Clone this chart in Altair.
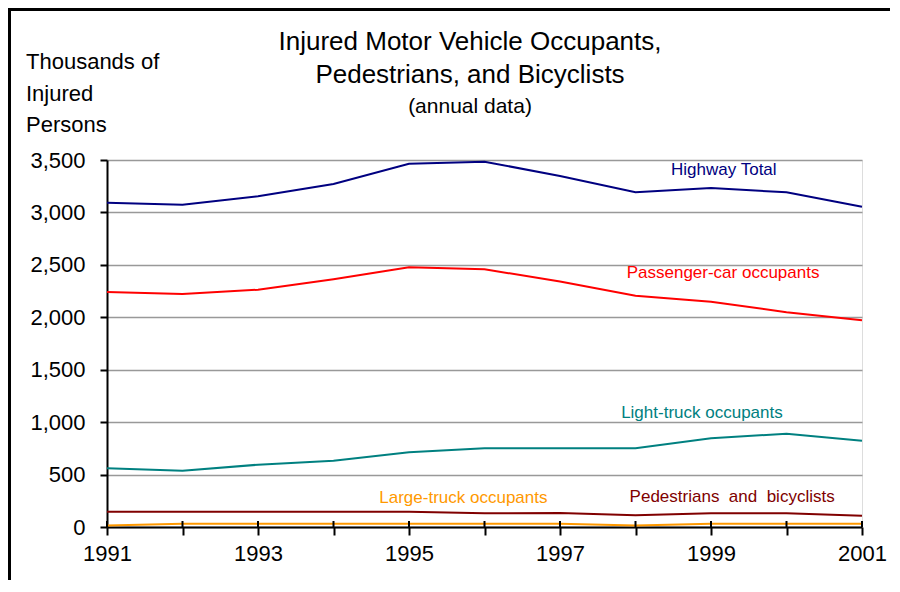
import altair as alt
import pandas as pd

# ---------------- data ----------------
years = list(range(1991, 2002))
highway_total = [3093, 3074, 3154, 3271, 3465, 3484, 3348, 3192, 3233, 3192, 3055]
passenger_car = [2241, 2222, 2263, 2362, 2477, 2458, 2341, 2206, 2149, 2048, 1971]
light_truck = [560, 537, 594, 632, 712, 750, 750, 750, 846, 890, 823]
pedestrians_bicyclists = [146, 146, 146, 146, 146, 131, 133, 112, 131, 131, 108]
large_truck = [15, 32, 32, 32, 32, 32, 32, 15, 32, 32, 32]

series_names = ["Highway Total", "Passenger-car occupants", "Light-truck occupants",
                "Pedestrians and bicyclists", "Large-truck occupants"]
series_colors = ["#000080", "#FF0000", "#008080", "#800000", "#FF9900"]
series_values = [highway_total, passenger_car, light_truck, pedestrians_bicyclists, large_truck]

y_ticks = [0, 500, 1000, 1500, 2000, 2500, 3000, 3500]

# in-chart series labels (annotation anchor in data units)
label_text = ["Highway Total", "Passenger-car occupants", "Light-truck occupants",
              "Pedestrians\u00a0 and\u00a0 bicyclists", "Large-truck occupants"]
label_year = [1999.17, 1999.16, 1998.88, 1999.28, 1995.72]
label_value = [3405, 2422, 1090, 289, 277]

title_lines = ["Injured Motor Vehicle Occupants,", "Pedestrians, and Bicyclists", "(annual data)"]
ytitle_lines = ["Thousands of", "Injured", "Persons"]

# ---------------- tables ----------------
rows = []
for name, vals in zip(series_names, series_values):
    for yr, v in zip(years, vals):
        rows.append({"year": yr, "value": v, "series": name})
df = pd.DataFrame(rows)
df_labels = pd.DataFrame({"year": label_year, "value": label_value,
                          "text": label_text, "series": series_names})
df_years = pd.DataFrame({"year": years})

FONT = "Liberation Sans"
W, H = 755, 367
PAD = {"left": 99, "top": 152, "right": 28, "bottom": 53}

xscale = alt.Scale(domain=[1991, 2001], nice=False, zero=False)
yscale = alt.Scale(domain=[0, 3500], nice=False)
cscale = alt.Scale(domain=series_names, range=series_colors)

x_axis = alt.Axis(values=years, title=None, grid=False,
                  labelExpr="datum.value % 2 == 1 ? format(datum.value, 'd') : ''",
                  tickSize=8, tickWidth=2, tickColor="black",
                  domainColor="black", domainWidth=2,
                  labelFont=FONT, labelFontSize=22, labelColor="black",
                  labelPadding=8, labelFlush=False, labelOverlap=False)
y_axis = alt.Axis(values=y_ticks, title=None,
                  labelExpr="format(datum.value, ',')",
                  grid=True, gridColor="#999999", gridWidth=1.6,
                  tickSize=7, tickWidth=2, tickColor="black",
                  domainColor="black", domainWidth=2,
                  labelFont=FONT, labelFontSize=22, labelColor="black",
                  labelPadding=15)

lines = alt.Chart(df).mark_line(strokeWidth=2).encode(
    x=alt.X("year:Q", scale=xscale, axis=x_axis),
    y=alt.Y("value:Q", scale=yscale, axis=y_axis),
    color=alt.Color("series:N", scale=cscale, legend=None),
    detail="series:N",
)

inner_ticks = alt.Chart(df_years).mark_rule(color="black", strokeWidth=2).encode(
    x=alt.X("year:Q", scale=xscale),
    y=alt.value(H - 6), y2=alt.value(H),
)

labels = alt.Chart(df_labels).mark_text(font=FONT, fontSize=17,
                                        align="center", baseline="middle").encode(
    x=alt.X("year:Q", scale=xscale),
    y=alt.Y("value:Q", scale=yscale),
    text="text:N",
    color=alt.Color("series:N", scale=cscale, legend=None),
)


def txt(s, x, y, size, align="center"):
    return alt.Chart(pd.DataFrame({"t": [s]})).mark_text(
        font=FONT, fontSize=size, align=align,
        baseline="middle", color="black").encode(
        x=alt.value(x), y=alt.value(y), text="t:N")


titles = [
    txt(title_lines[0], 363, -118, 26),
    txt(title_lines[1], 363, -85, 26),
    txt(title_lines[2], 363, -53, 21),
    txt(ytitle_lines[0], -81, -98, 22, "left"),
    txt(ytitle_lines[1], -81, -66, 22, "left"),
    txt(ytitle_lines[2], -81, -35, 22, "left"),
]

one = pd.DataFrame({"a": [0]})
frame_left = alt.Chart(one).mark_rule(color="black", strokeWidth=3).encode(
    x=alt.value(-97.5), y=alt.value(-152), y2=alt.value(H + 60))
frame_top = alt.Chart(one).mark_rule(color="black", strokeWidth=3).encode(
    x=alt.value(-99), x2=alt.value(W + 40), y=alt.value(-150.5))

chart = alt.layer(lines, inner_ticks, labels, *titles, frame_left, frame_top).properties(
    width=W, height=H, padding=PAD,
    autosize=alt.AutoSizeParams(type="none"),
).configure_view(strokeWidth=0).configure(background="white")

chart.save("out.html", embed_options={"renderer": "svg", "actions": False})
